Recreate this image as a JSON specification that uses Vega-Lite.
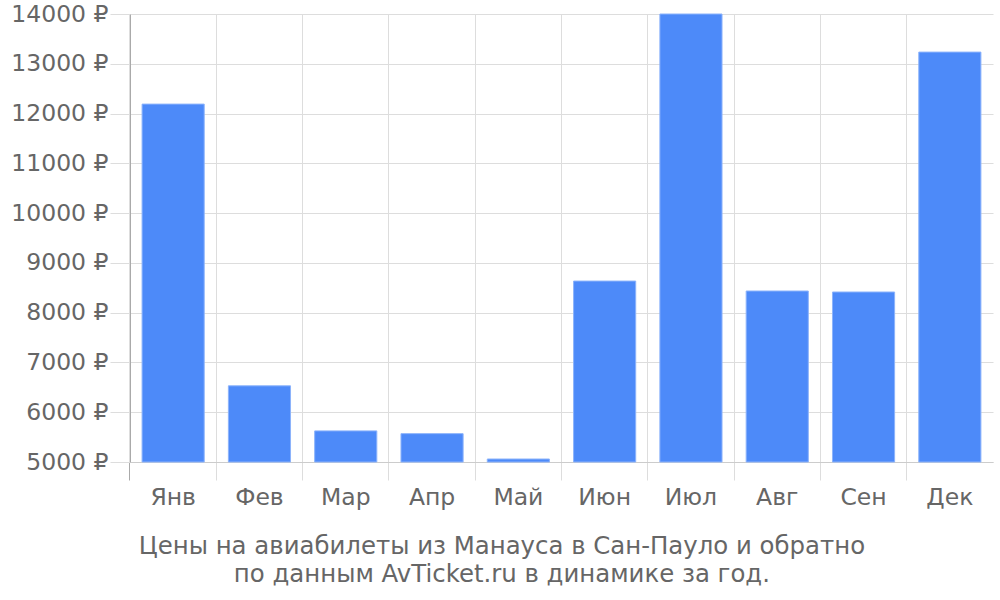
{
  "$schema": "https://vega.github.io/schema/vega-lite/v6.json",
  "autosize": "none",
  "width": 863,
  "height": 448,
  "padding": {"left": 130, "top": 14, "right": 7, "bottom": 138},
  "background": "white",
  "config": {
    "font": "DejaVu Sans",
    "view": {"stroke": null}
  },
  "data": {
    "values": [
      {"month": "Янв", "price": 12190},
      {"month": "Фев", "price": 6530},
      {"month": "Мар", "price": 5625},
      {"month": "Апр", "price": 5570},
      {"month": "Май", "price": 5060},
      {"month": "Июн", "price": 8635},
      {"month": "Июл", "price": 14000},
      {"month": "Авг", "price": 8435},
      {"month": "Сен", "price": 8415},
      {"month": "Дек", "price": 13235}
    ]
  },
  "title": {
    "text": ["Цены на авиабилеты из Манауса в Сан-Пауло и обратно", "по данным AvTicket.ru в динамике за год."],
    "orient": "bottom",
    "anchor": "middle",
    "frame": "bounds",
    "font": "DejaVu Sans",
    "fontSize": 24.4,
    "fontWeight": "normal",
    "color": "#666666",
    "lineHeight": 28,
    "offset": 26
  },
  "mark": {"type": "bar", "color": "#4d8af9", "stroke": "#8cb3fb", "strokeWidth": 1},
  "encoding": {
    "x": {
      "field": "month",
      "type": "nominal",
      "sort": null,
      "scale": {"paddingInner": 0.28, "paddingOuter": 0.14},
      "axis": {
        "title": null,
        "labelAngle": 0,
        "labelFont": "DejaVu Sans",
        "labelFontSize": 23.5,
        "labelColor": "#666666",
        "labelPadding": 5,
        "bandPosition": -0.195,
        "grid": true,
        "gridColor": "#dddddd",
        "ticks": true,
        "tickSize": 18,
        "tickColor": {"condition": {"test": "datum.index == 0", "value": "#aaaaaa"}, "value": "#dddddd"},
        "domainColor": "#cccccc"
      }
    },
    "y": {
      "field": "price",
      "type": "quantitative",
      "scale": {"domain": [5000, 14000], "zero": false, "nice": false},
      "axis": {
        "title": null,
        "values": [5000, 6000, 7000, 8000, 9000, 10000, 11000, 12000, 13000, 14000],
        "labelExpr": "datum.value + ' ₽'",
        "labelFont": "DejaVu Sans",
        "labelFontSize": 23.5,
        "labelColor": "#666666",
        "labelPadding": 2,
        "tickSize": 20,
        "tickColor": "#dddddd",
        "gridColor": "#dddddd",
        "domainColor": "#aaaaaa"
      }
    },
    "y2": {"datum": 5000}
  }
}
